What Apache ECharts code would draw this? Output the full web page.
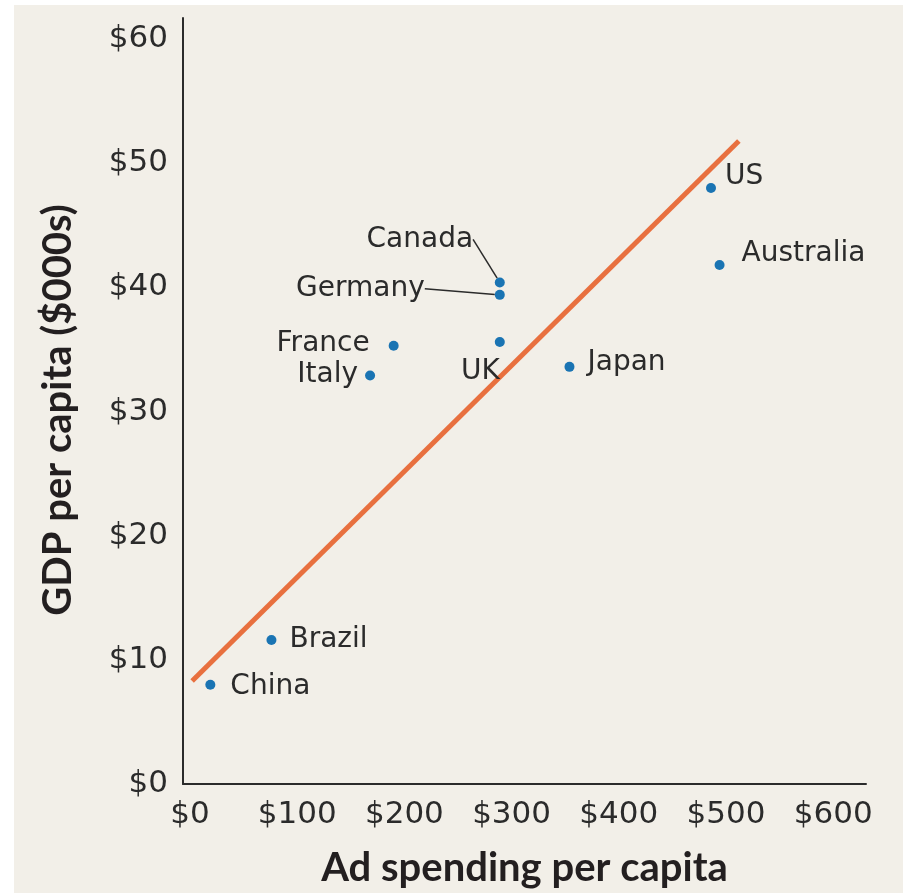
<!DOCTYPE html>
<html>
<head>
<meta charset="utf-8">
<script src="https://cdn.jsdelivr.net/npm/echarts@6/dist/echarts.min.js"></script>
<style>
  html, body { margin: 0; padding: 0; background: #ffffff; }
  #panel { position: absolute; left: 14px; top: 5px; width: 889px; height: 888px; background: #f2efe8; }
  #chart { position: absolute; left: 0; top: 0; width: 903px; height: 893px; }
</style>
</head>
<body>
<div id="panel"></div>
<div id="chart"></div>
<script>
// data
var countries = ['China', 'Brazil', 'Italy', 'France', 'UK', 'Germany', 'Canada', 'Japan', 'US', 'Australia'];
var adSpending = [19, 76, 168, 190, 289, 289, 289, 354, 486, 494];
var gdpPerCapita = [8.0, 11.6, 32.9, 35.3, 35.6, 39.4, 40.4, 33.6, 48.0, 41.8];
var trendX = [2, 512];
var trendY = [8.3, 51.8];
var xTicks = [0, 100, 200, 300, 400, 500, 600];
var yTicks = [0, 10, 20, 30, 40, 50, 60];

// where each country label sits relative to its dot
var labelPlace = {
    China:     { position: [25, 7],   align: 'left' },
    Brazil:    { position: [23, 5],   align: 'left' },
    Italy:     { position: [-7, 4],   align: 'right' },
    France:    { position: [-19, 3],  align: 'right' },
    UK:        { position: [5, 35],   align: 'right' },
    Germany:   { position: [-70, -1], align: 'right', leader: true },
    Canada:    { position: [-75, -38], align: 'center', leader: true },
    Japan:     { position: [23, 1],   align: 'left' },
    US:        { position: [19, -6],  align: 'left' },
    Australia: { position: [27, -6],  align: 'left' }
};

var textFont = 'DejaVu Sans';
var titleFont = 'Lato';

var points = countries.map(function (name, i) {
    var p = labelPlace[name];
    var item = {
        name: name,
        value: [adSpending[i], gdpPerCapita[i]],
        label: { position: p.position, align: p.align, verticalAlign: 'middle' }
    };
    if (p.leader) {
        item.labelLine = { show: true, lineStyle: { color: '#2b2b2b', width: 1.5 } };
    }
    return item;
});

var trendData = trendX.map(function (x, i) { return [x, trendY[i]]; });

var myChart = echarts.init(document.getElementById('chart'));
var option = {
    backgroundColor: 'transparent',
    animation: false,
    grid: { left: 183, right: 37, top: 18, bottom: 107 },
    xAxis: {
        type: 'value',
        min: -6.5,
        max: 630.6,
        name: 'Ad spending per capita',
        nameLocation: 'middle',
        nameGap: 64,
        nameTextStyle: { fontFamily: titleFont, fontWeight: 'bold', fontSize: 40, color: '#231f20' },
        axisLine: { onZero: false, lineStyle: { color: '#2b2b2b', width: 2 } },
        axisTick: { show: false },
        splitLine: { show: false },
        axisLabel: {
            customValues: xTicks,
            margin: 15,
            fontFamily: textFont,
            fontSize: 31,
            color: '#2b2b2b',
            formatter: function (v) { return '$' + v; }
        }
    },
    yAxis: {
        type: 'value',
        min: 0,
        max: 61.7,
        name: 'GDP per capita ($000s)',
        nameLocation: 'middle',
        nameGap: 105,
        nameTextStyle: {
            fontFamily: titleFont, fontWeight: 'bold', fontSize: 40, color: '#231f20',
            padding: [0, 18, 0, 0]
        },
        axisLine: { onZero: false, lineStyle: { color: '#2b2b2b', width: 2 } },
        axisTick: { show: false },
        splitLine: { show: false },
        axisLabel: {
            customValues: yTicks,
            margin: 15,
            fontFamily: textFont,
            fontSize: 31,
            color: '#2b2b2b',
            formatter: function (v) { return '$' + v; }
        }
    },
    series: [
        {
            type: 'line',
            data: trendData,
            symbol: 'none',
            lineStyle: { color: '#e8703f', width: 5 },
            z: 2
        },
        {
            type: 'scatter',
            data: points,
            symbolSize: 10,
            itemStyle: { color: '#1a74b3', opacity: 1 },
            label: {
                show: true,
                formatter: '{b}',
                fontFamily: textFont,
                fontSize: 28,
                color: '#2b2b2b'
            },
            z: 3
        }
    ]
};
myChart.setOption(option);
window.addEventListener('resize', function () {
    myChart.resize();
});
</script>
</body>
</html>
